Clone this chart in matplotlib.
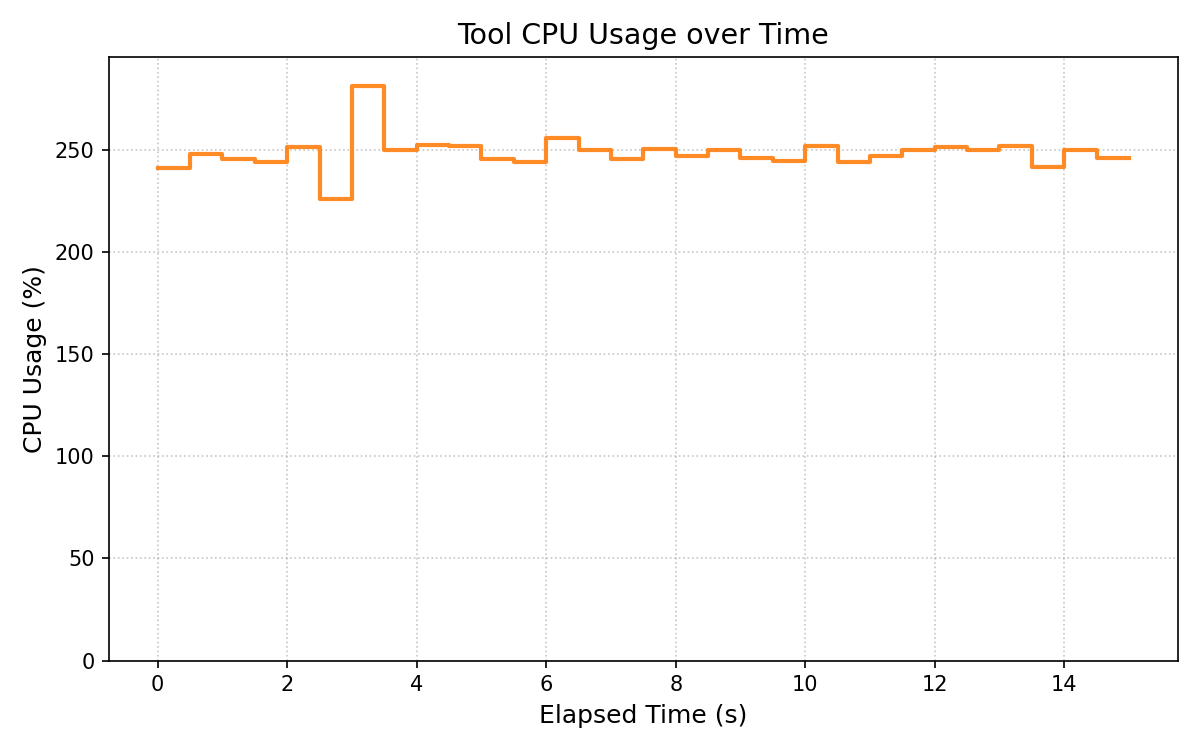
import numpy as np
import matplotlib
matplotlib.use("Agg")
import matplotlib.pyplot as plt

# samples every 0.5 s
elapsed = [0.0, 0.5, 1.0, 1.5, 2.0, 2.5, 3.0, 3.5, 4.0, 4.5,
           5.0, 5.5, 6.0, 6.5, 7.0, 7.5, 8.0, 8.5, 9.0, 9.5,
           10.0, 10.5, 11.0, 11.5, 12.0, 12.5, 13.0, 13.5, 14.0, 14.5, 15.0]
cpu = [241.2, 248.0, 245.6, 244.0, 251.2, 226.0, 281.4, 250.0, 252.6, 252.0,
       245.6, 244.0, 255.7, 250.0, 245.6, 250.4, 247.0, 249.9, 245.8, 244.6,
       252.1, 244.1, 247.0, 249.9, 251.5, 249.9, 252.1, 241.7, 250.0, 246.1, 246.1]

fig, ax = plt.subplots(figsize=(8, 5), dpi=150)
ax.step(elapsed, cpu, where='post', color='tab:orange', alpha=0.9, linewidth=2)

ax.set_ylim(0, max(cpu) * 1.05)
ax.set_title("Tool CPU Usage over Time", fontsize=13.7)
ax.set_xlabel("Elapsed Time (s)", fontsize=12)
ax.set_ylabel("CPU Usage (%)", fontsize=12)
ax.grid(True, linestyle=':', color='gray', alpha=0.45)

plt.tight_layout()
plt.savefig("out.png")
